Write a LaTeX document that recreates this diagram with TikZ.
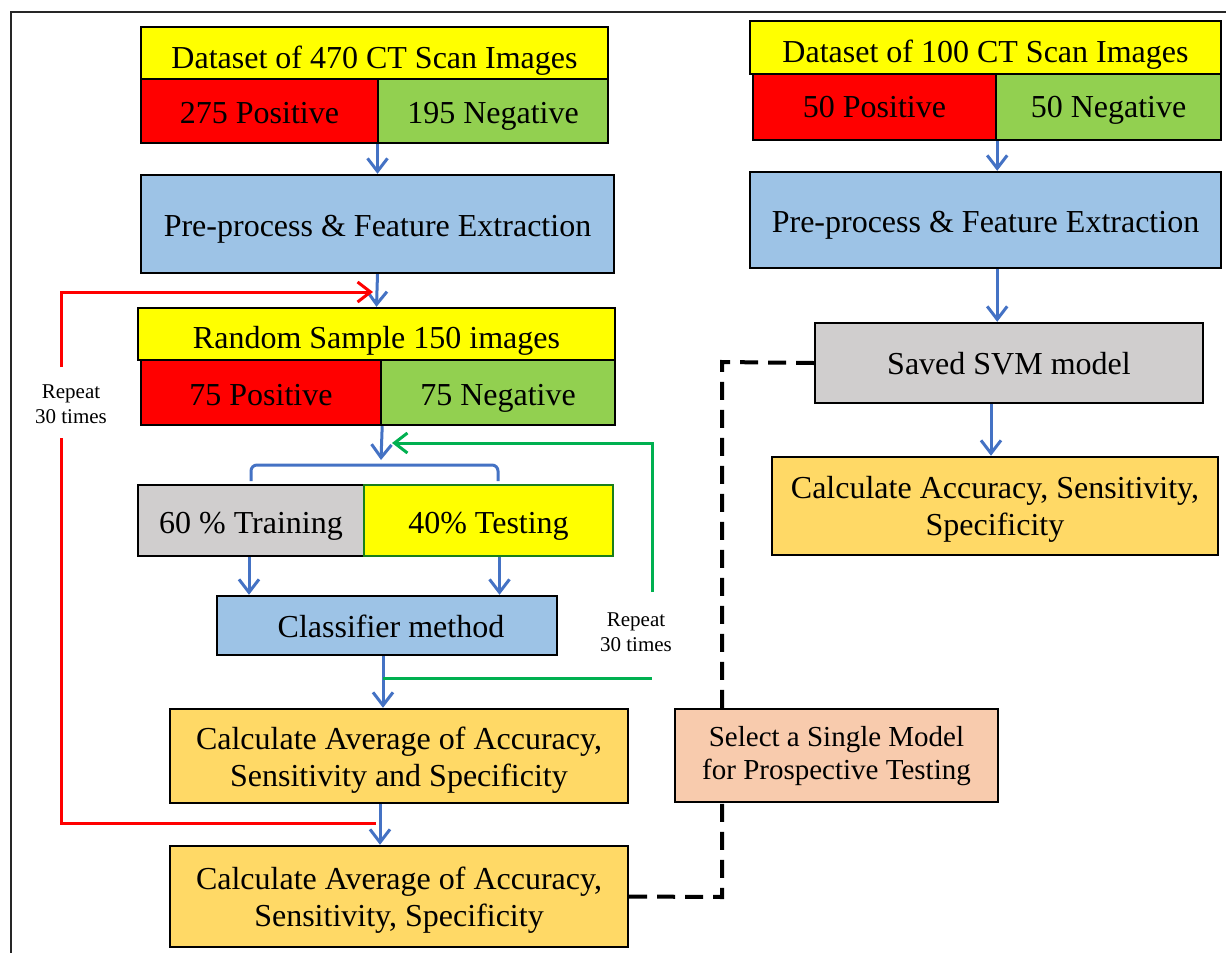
\documentclass[tikz,border=0pt]{standalone}
\usepackage{fontspec}
\setmainfont{Liberation Serif}
\usetikzlibrary{arrows.meta,calc}
\definecolor{cYel}{HTML}{FFFF00}
\definecolor{cRed}{HTML}{FF0000}
\definecolor{cGrn}{HTML}{92D050}
\definecolor{cBlu}{HTML}{9DC3E6}
\definecolor{cGry}{HTML}{D0CECE}
\definecolor{cOrg}{HTML}{FFD966}
\definecolor{cPch}{HTML}{F8CBAD}
\definecolor{aBlu}{HTML}{4472C4}
\definecolor{lGrn}{HTML}{00B050}
\definecolor{bGrn}{HTML}{1A7F1A}
\tikzset{
  box/.style={draw=black, line width=1.2pt, inner sep=0pt, rectangle},
  txt/.style={inner sep=0pt, align=center, font=\fontsize{16}{18.5}\selectfont},
  btxt/.style={txt, anchor=base},
  barrow/.style={draw=aBlu, line width=1.5pt, -{Straight Barb[length=6.5pt,width=10pt]}},
  bline/.style={draw=aBlu, line width=1.5pt},
  gline/.style={draw=lGrn, line width=1.5pt},
  garrow/.style={draw=lGrn, line width=1.5pt, -{Straight Barb[length=6.5pt,width=10pt]}},
  rline/.style={draw=cRed, line width=1.5pt},
  rarrow/.style={draw=cRed, line width=1.5pt, -{Straight Barb[length=6.5pt,width=10pt]}},
  dline/.style={draw=black, line width=2pt, dash pattern=on 9pt off 5pt},
  small/.style={font=\fontsize{10.5}{12.5}\selectfont, align=center}
}
\begin{document}
\begin{tikzpicture}[x=0.5pt,y=-0.5pt]
\useasboundingbox (0,0) rectangle (1226,953);
% frame
\draw[line width=1pt, black!85] (1226,12) -- (11,12) -- (11,953);

% left column boxes
\node[box, fill=cYel, minimum width=233.5pt, minimum height=26pt] (d1t) at (374.5,53) {};
\node[box, fill=cRed, minimum width=118.5pt, minimum height=32pt] (d1p) at (259.5,111) {};
\node[box, fill=cGrn, minimum width=115pt, minimum height=32pt] (d1n) at (493,111) {};
\node[box, fill=cBlu, minimum width=236.5pt, minimum height=49pt] (pp1) at (377.5,224) {};
\node[box, fill=cYel, minimum width=238.5pt, minimum height=26pt] (rst) at (376.5,334) {};
\node[box, fill=cRed, minimum width=120pt, minimum height=32.5pt] (rsp) at (261,392.5) {};
\node[box, fill=cGrn, minimum width=117pt, minimum height=32.5pt] (rsn) at (498,392.5) {};
\node[box, fill=cGry, minimum width=113pt, minimum height=35.5pt] (tr) at (251,520.5) {};
\node[box, fill=cYel, draw=bGrn, minimum width=124.5pt, minimum height=35.5pt] (te) at (488.5,520.5) {};
\node[box, fill=cBlu, minimum width=170pt, minimum height=29.5pt] (cl) at (387,625.5) {};
\node[box, fill=cOrg, minimum width=229pt, minimum height=47pt] (av1) at (399,756) {};
\node[box, fill=cOrg, minimum width=229pt, minimum height=50.5pt] (av2) at (399,896.5) {};
\node[box, fill=cPch, minimum width=161.5pt, minimum height=46.5pt] (sel) at (836.5,755.5) {};

% right column boxes
\node[box, fill=cYel, minimum width=235.5pt, minimum height=26.5pt] (d2t) at (985.5,47.5) {};
\node[box, fill=cRed, minimum width=121.5pt, minimum height=33pt] (d2p) at (874.5,107) {};
\node[box, fill=cGrn, minimum width=112.5pt, minimum height=33pt] (d2n) at (1108.5,107) {};
\node[box, fill=cBlu, minimum width=235.5pt, minimum height=48pt] (pp2) at (985.5,220) {};
\node[box, fill=cGry, minimum width=194pt, minimum height=40pt] (svm) at (1009,363) {};
\node[box, fill=cOrg, minimum width=223pt, minimum height=49pt] (acc) at (995,506) {};

% box texts
\node[btxt] (d1tT) at ([yshift=-7.5pt]d1t.center) {Dataset of 470 CT Scan Images};
\node[btxt] (d1pT) at ([yshift=-6pt]d1p.center) {275 Positive};
\node[btxt] (d1nT) at ([yshift=-6pt]d1n.center) {195 Negative};
\node[btxt] (pp1T) at ([yshift=-6pt]pp1.center) {Pre-process \& Feature Extraction};
\node[btxt] (rstT) at ([yshift=-7pt]rst.center) {Random Sample 150 images};
\node[btxt] (rspT) at ([yshift=-6.25pt]rsp.center) {75 Positive};
\node[btxt] (rsnT) at ([yshift=-6.25pt]rsn.center) {75 Negative};
\node[btxt] (trT) at ([yshift=-6.25pt]tr.center) {60 \% Training};
\node[btxt] (teT) at ([yshift=-6.25pt]te.center) {40\% Testing};
\node[btxt] (clT) at ([xshift=2pt,yshift=-5.75pt]cl.center) {Classifier method};
\node[txt] (av1T) at ([yshift=-2.2pt]av1.center) {Calculate Average of Accuracy,\\Sensitivity and Specificity};
\node[txt] (av2T) at ([yshift=-1.75pt]av2.center) {Calculate Average of Accuracy,\\Sensitivity, Specificity};
\node[txt, font=\fontsize{14.5}{16.5}\selectfont] (selT) at ([yshift=-0.5pt]sel.center) {Select a Single Model\\for Prospective Testing};
\node[btxt] (d2tT) at ([yshift=-7.25pt]d2t.center) {Dataset of 100 CT Scan Images};
\node[btxt] (d2pT) at ([yshift=-5pt]d2p.center) {50 Positive};
\node[btxt] (d2nT) at ([yshift=-5pt]d2n.center) {50 Negative};
\node[btxt] (pp2T) at ([yshift=-6pt]pp2.center) {Pre-process \& Feature Extraction};
\node[btxt] (svmT) at ([yshift=-5.5pt]svm.center) {Saved SVM model};
\node[txt] (accT) at ([yshift=-1.5pt]acc.center) {Calculate Accuracy, Sensitivity,\\Specificity};

% labels
\node[small] (rep1) at (71,404) {Repeat\\30 times};
\node[small] (rep2) at (636,632) {Repeat\\30 times};

% coordinates
\coordinate (sp) at (381,460);
\coordinate (bl) at (251,481);
\coordinate (bm) at (381,465);
\coordinate (br) at (498,481);
\coordinate (g1) at (383,678);
\coordinate (g2) at (652,678);
\coordinate (g3) at (652,592);
\coordinate (g4) at (652,443);
\coordinate (g5) at (392,443);
\coordinate (r1) at (376,823);
\coordinate (r2) at (61,823);
\coordinate (r3) at (61,438);
\coordinate (r4) at (61,367);
\coordinate (r5) at (61,292);
\coordinate (r6) at (373,292);
\coordinate (k1) at (722,897);
\coordinate (k2) at (722,362);

% blue arrows
\draw[barrow] (pp1.north |- d1p.south) -- (pp1.north);
\draw[barrow] (pp1.south) -- (rst.north);
\draw[barrow] (rsp.south east) -- (sp);
\draw[bline, rounded corners=3pt] (bl) |- (bm) -| (br);
\draw[barrow] ([xshift=-1pt]tr.south) -- ([xshift=-1pt]tr.south |- cl.north);
\draw[barrow] ([xshift=5.5pt]te.south) -- ([xshift=5.5pt]te.south |- cl.north);
\draw[barrow] ([xshift=-2pt]cl.south) -- ([xshift=-2pt]cl.south |- av1.north);
\draw[barrow] ([xshift=-9.5pt]av1.south) -- ([xshift=-9.5pt]av2.north);
\draw[barrow] (d2p.south east) -- (d2p.south east |- pp2.north);
\draw[barrow] (d2p.south east |- pp2.south) -- (d2p.south east |- svm.north);
\draw[barrow] ([xshift=-2pt]acc.north |- svm.south) -- ([xshift=-2pt]acc.north);

% green loop
\draw[gline] (g1) -- (g2);
\draw[garrow] (g3) -- (g4) -- (g5);

% red loop
\draw[rline] (r1) -- (r2) -- (r3);
\draw[rarrow] (r4) -- (r5) -- (r6);

% dashed
\draw[dline] (av2.east) -- (k1) -- (k1 |- sel.south);
\draw[dline] (k1 |- sel.north) -- (k2) -- (svm.west);
\end{tikzpicture}
\end{document}
